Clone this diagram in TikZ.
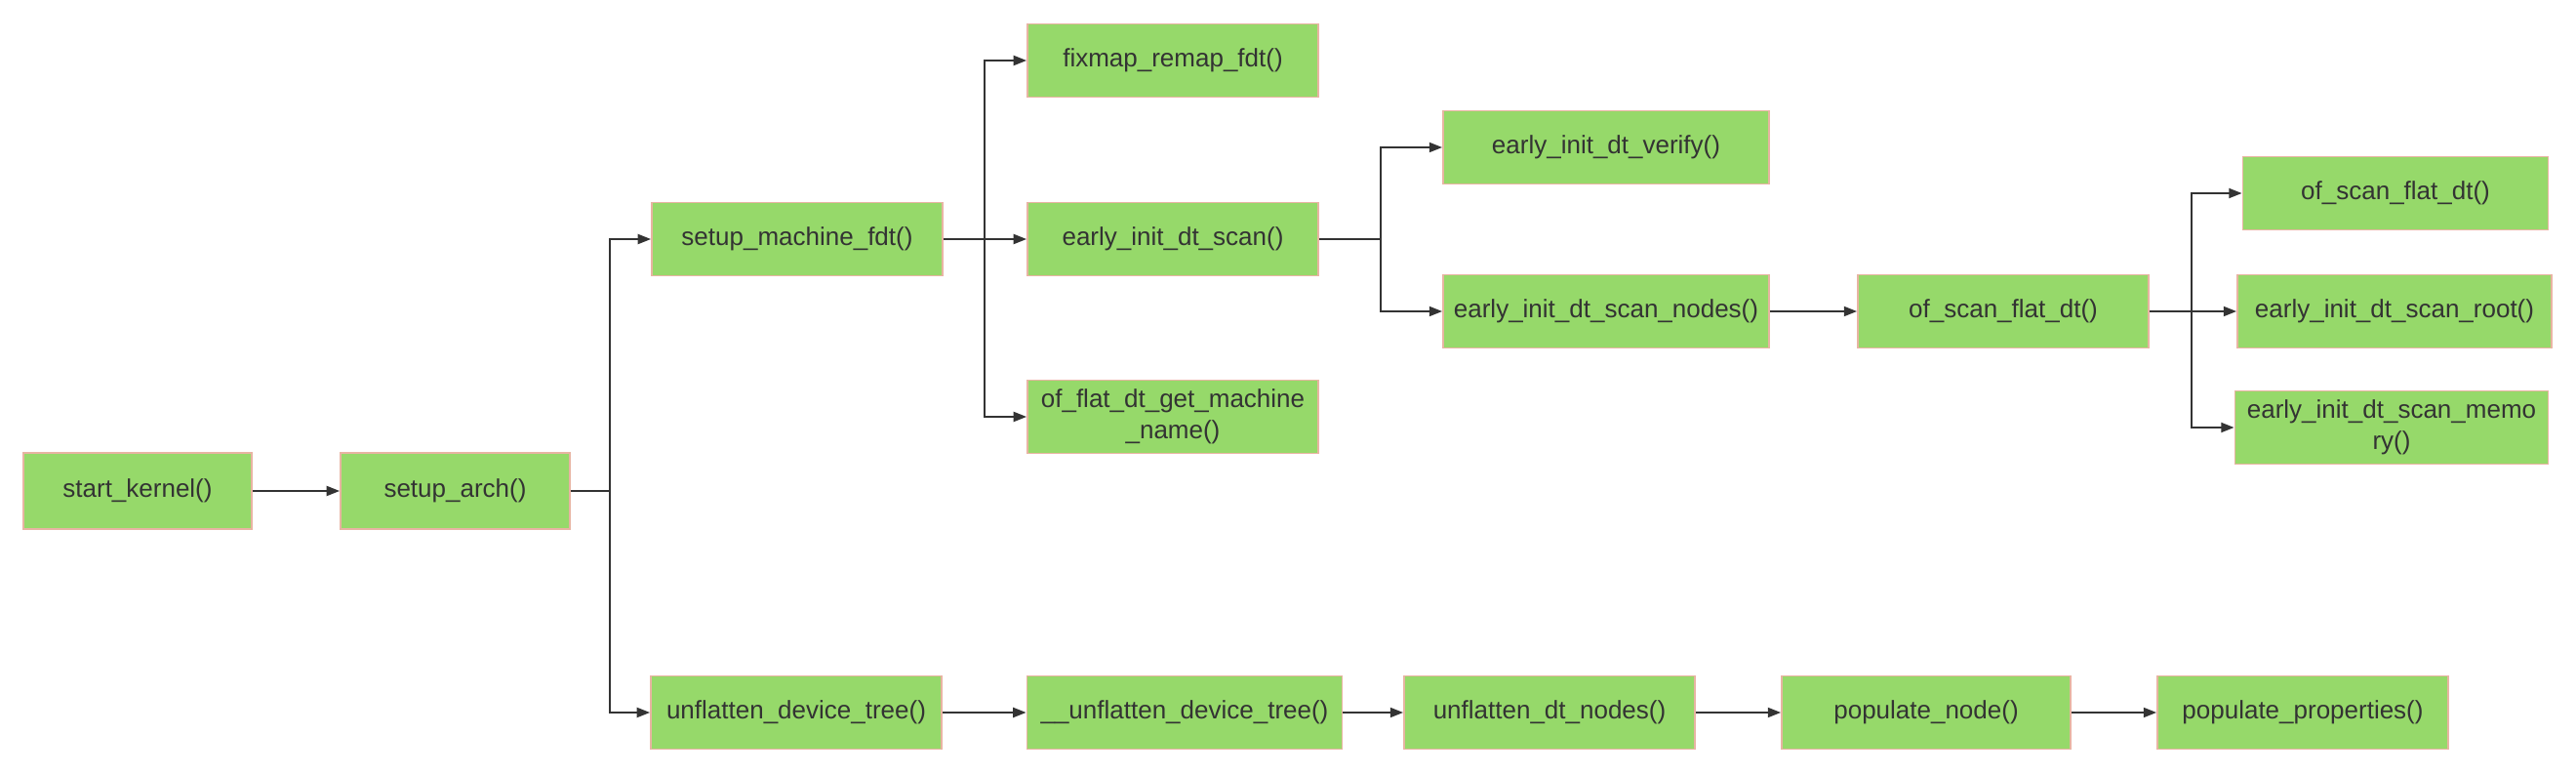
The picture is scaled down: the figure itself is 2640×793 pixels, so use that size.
\documentclass[tikz,border=0pt]{standalone}
\usepackage{fontspec}
\setmainfont{Liberation Sans}
\usetikzlibrary{arrows.meta}
\definecolor{boxfill}{HTML}{96D96A}
\definecolor{boxline}{HTML}{E8B4A2}
\definecolor{ink}{HTML}{333333}
\begin{document}
\begin{tikzpicture}[x=0.75pt,y=-0.75pt,
  box/.style={draw=boxline,line width=1.4pt,fill=boxfill,text=ink,
    minimum height=56.25pt,inner sep=2pt,align=center,
    font=\fontsize{19.5}{24}\selectfont},
  conn/.style={draw=ink,line width=1.4pt},
  arr/.style={conn,-{Triangle[length=10pt,width=7.5pt]}}]
\useasboundingbox (0,0) rectangle (2640,793);
% nodes
\node[box,minimum width=175.5pt,minimum height=58.5pt] (sk) at (141,503) {start\_kernel()};
\node[box,minimum width=176.25pt,minimum height=58.5pt] (sa) at (466.5,503) {setup\_arch()};
\node[box,minimum width=223.5pt] (smf) at (817,245) {setup\_machine\_fdt()};
\node[box,minimum width=223.5pt] (fix) at (1202,62) {fixmap\_remap\_fdt()};
\node[box,minimum width=223.5pt] (eids) at (1202,245) {early\_init\_dt\_scan()};
\node[box,minimum width=223.5pt] (ofgm) at (1202,427) {of\_flat\_dt\_get\_machine\\\_name()};
\node[box,minimum width=250.5pt] (ver) at (1646,151) {early\_init\_dt\_verify()};
\node[box,minimum width=250.5pt] (nodes) at (1646,319) {early\_init\_dt\_scan\_nodes()};
\node[box,minimum width=223.5pt] (osf) at (2053,319) {of\_scan\_flat\_dt()};
\node[box,minimum width=234.75pt] (osfb) at (2455,198) {of\_scan\_flat\_dt()};
\node[box,minimum width=241.5pt] (root) at (2454,319) {early\_init\_dt\_scan\_root()};
\node[box,minimum width=240.75pt] (mem) at (2451,438) {early\_init\_dt\_scan\_memo\\ry()};
\node[box,minimum width=223.5pt] (udt) at (816,730) {unflatten\_device\_tree()};
\node[box,minimum width=242.25pt] (uudt) at (1214,730) {\_\_unflatten\_device\_tree()};
\node[box,minimum width=223.5pt] (udn) at (1588,730) {unflatten\_dt\_nodes()};
\node[box,minimum width=222pt] (pn) at (1974,730) {populate\_node()};
\node[box,minimum width=223.5pt] (pp) at (2360,730) {populate\_properties()};
% branch points
\coordinate (b1) at (625,503);
\coordinate (b2) at (1009,245);
\coordinate (b3) at (1415,245);
\coordinate (b4) at (2246,319);
% connectors
\draw[arr] (sk) -- (sa);
\draw[conn] (sa.east) -- (b1);
\draw[arr] (b1) |- (smf.west);
\draw[arr] (b1) |- (udt.west);
\draw[conn] (smf.east) -- (b2);
\draw[arr] (b2) |- (fix.west);
\draw[arr] (b2) -- (eids.west);
\draw[arr] (b2) |- (ofgm.west);
\draw[conn] (eids.east) -- (b3);
\draw[arr] (b3) |- (ver.west);
\draw[arr] (b3) |- (nodes.west);
\draw[arr] (nodes) -- (osf);
\draw[conn] (osf.east) -- (b4);
\draw[arr] (b4) |- (osfb.west);
\draw[arr] (b4) -- (root.west);
\draw[arr] (b4) |- (mem.west);
\draw[arr] (udt) -- (uudt);
\draw[arr] (uudt) -- (udn);
\draw[arr] (udn) -- (pn);
\draw[arr] (pn) -- (pp);
\end{tikzpicture}
\end{document}
